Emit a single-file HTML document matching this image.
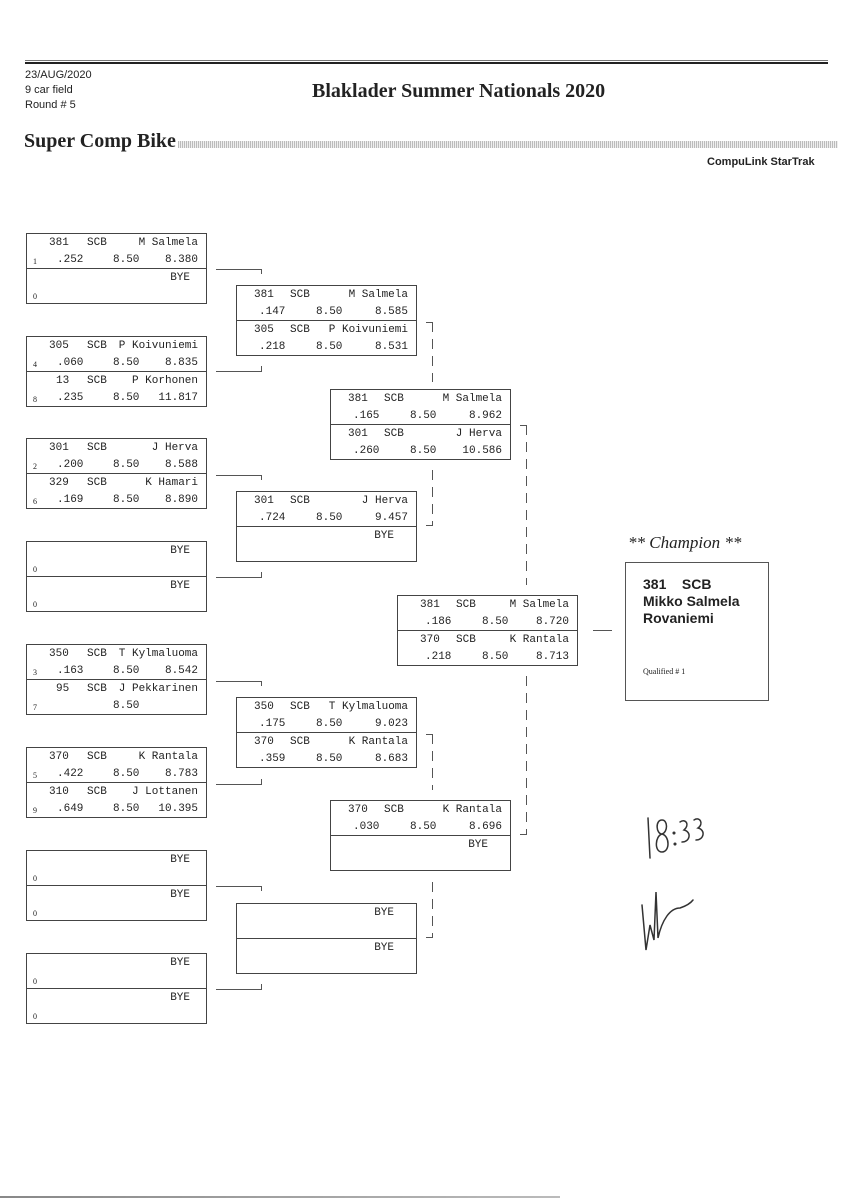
<!DOCTYPE html>
<html><head><meta charset="utf-8"><style>
body{margin:0;background:#fff;}
#p{position:relative;width:848px;height:1200px;overflow:hidden;background:#fff;color:#222;font-family:"Liberation Sans",sans-serif;}
.ab{position:absolute;}
.bx{position:absolute;width:179px;height:69px;border:1px solid #444;}
.h{position:absolute;left:0;width:179px;height:34px;}
.h2{top:34px;border-top:1px solid #444;}
.h1{top:0;}
.t{position:absolute;font-family:"Liberation Mono",monospace;font-size:11px;line-height:12px;white-space:pre;}
.u{top:3px}.l{top:20px}
.sd{position:absolute;left:6px;top:23px;font-family:"Liberation Serif",serif;font-size:8px;}
.ln{position:absolute;background:#555;}
.dv{position:absolute;width:1px;background:repeating-linear-gradient(#555 0 10px,transparent 10px 17px);}
</style></head><body><div id="p">
<div class="ln" style="left:25px;top:60px;width:803px;height:1px;background:#777"></div>
<div class="ln" style="left:25px;top:62px;width:803px;height:2px;background:#222"></div>
<div class="ab" style="left:25px;top:68px;font-size:11px;line-height:15px;font-family:'Liberation Sans Narrow','Liberation Sans',sans-serif">23/AUG/2020<br>9 car field<br>Round # 5</div>
<div class="ab" style="left:312px;top:80px;font-family:'Liberation Serif',serif;font-weight:bold;font-size:20px">Blaklader Summer Nationals 2020</div>
<div class="ab" style="left:24px;top:130px;font-family:'Liberation Serif',serif;font-weight:bold;font-size:20px">Super Comp Bike</div>
<div class="ab" style="left:178px;top:141px;width:660px;height:7px;background:repeating-linear-gradient(90deg,#bbb 0 1px,#eee 1px 2px)"></div>
<div class="ab" style="left:707px;top:156px;font-size:11px;font-family:'Liberation Sans Narrow','Liberation Sans',sans-serif;font-weight:bold">CompuLink StarTrak</div>

<!-- Round 1 -->
<div class="bx" style="left:26px;top:233px"><div class="h h1"><span class="t u" style="left:22px">381</span><span class="t u" style="left:60px">SCB</span><span class="t u" style="right:8px">M Salmela</span><span class="sd">1</span><span class="t l" style="left:30px">.252</span><span class="t l" style="left:86px">8.50</span><span class="t l" style="right:8px">8.380</span></div><div class="h h2"><span class="t u" style="right:16px">BYE</span><span class="sd">0</span></div></div>
<div class="bx" style="left:26px;top:336px"><div class="h h1"><span class="t u" style="left:22px">305</span><span class="t u" style="left:60px">SCB</span><span class="t u" style="right:8px">P Koivuniemi</span><span class="sd">4</span><span class="t l" style="left:30px">.060</span><span class="t l" style="left:86px">8.50</span><span class="t l" style="right:8px">8.835</span></div><div class="h h2"><span class="t u" style="left:29px">13</span><span class="t u" style="left:60px">SCB</span><span class="t u" style="right:8px">P Korhonen</span><span class="sd">8</span><span class="t l" style="left:30px">.235</span><span class="t l" style="left:86px">8.50</span><span class="t l" style="right:8px">11.817</span></div></div>
<div class="bx" style="left:26px;top:438px"><div class="h h1"><span class="t u" style="left:22px">301</span><span class="t u" style="left:60px">SCB</span><span class="t u" style="right:8px">J Herva</span><span class="sd">2</span><span class="t l" style="left:30px">.200</span><span class="t l" style="left:86px">8.50</span><span class="t l" style="right:8px">8.588</span></div><div class="h h2"><span class="t u" style="left:22px">329</span><span class="t u" style="left:60px">SCB</span><span class="t u" style="right:8px">K Hamari</span><span class="sd">6</span><span class="t l" style="left:30px">.169</span><span class="t l" style="left:86px">8.50</span><span class="t l" style="right:8px">8.890</span></div></div>
<div class="bx" style="left:26px;top:541px"><div class="h h1"><span class="t u" style="right:16px">BYE</span><span class="sd">0</span></div><div class="h h2"><span class="t u" style="right:16px">BYE</span><span class="sd">0</span></div></div>
<div class="bx" style="left:26px;top:644px"><div class="h h1"><span class="t u" style="left:22px">350</span><span class="t u" style="left:60px">SCB</span><span class="t u" style="right:8px">T Kylmaluoma</span><span class="sd">3</span><span class="t l" style="left:30px">.163</span><span class="t l" style="left:86px">8.50</span><span class="t l" style="right:8px">8.542</span></div><div class="h h2"><span class="t u" style="left:29px">95</span><span class="t u" style="left:60px">SCB</span><span class="t u" style="right:8px">J Pekkarinen</span><span class="sd">7</span><span class="t l" style="left:86px">8.50</span></div></div>
<div class="bx" style="left:26px;top:747px"><div class="h h1"><span class="t u" style="left:22px">370</span><span class="t u" style="left:60px">SCB</span><span class="t u" style="right:8px">K Rantala</span><span class="sd">5</span><span class="t l" style="left:30px">.422</span><span class="t l" style="left:86px">8.50</span><span class="t l" style="right:8px">8.783</span></div><div class="h h2"><span class="t u" style="left:22px">310</span><span class="t u" style="left:60px">SCB</span><span class="t u" style="right:8px">J Lottanen</span><span class="sd">9</span><span class="t l" style="left:30px">.649</span><span class="t l" style="left:86px">8.50</span><span class="t l" style="right:8px">10.395</span></div></div>
<div class="bx" style="left:26px;top:850px"><div class="h h1"><span class="t u" style="right:16px">BYE</span><span class="sd">0</span></div><div class="h h2"><span class="t u" style="right:16px">BYE</span><span class="sd">0</span></div></div>
<div class="bx" style="left:26px;top:953px"><div class="h h1"><span class="t u" style="right:16px">BYE</span><span class="sd">0</span></div><div class="h h2"><span class="t u" style="right:16px">BYE</span><span class="sd">0</span></div></div>

<!-- Round 2 -->
<div class="bx" style="left:236px;top:285px"><div class="h h1"><span class="t u" style="left:17px">381</span><span class="t u" style="left:53px">SCB</span><span class="t u" style="right:8px">M Salmela</span><span class="t l" style="left:22px">.147</span><span class="t l" style="left:79px">8.50</span><span class="t l" style="right:8px">8.585</span></div><div class="h h2"><span class="t u" style="left:17px">305</span><span class="t u" style="left:53px">SCB</span><span class="t u" style="right:8px">P Koivuniemi</span><span class="t l" style="left:22px">.218</span><span class="t l" style="left:79px">8.50</span><span class="t l" style="right:8px">8.531</span></div></div>
<div class="bx" style="left:236px;top:491px"><div class="h h1"><span class="t u" style="left:17px">301</span><span class="t u" style="left:53px">SCB</span><span class="t u" style="right:8px">J Herva</span><span class="t l" style="left:22px">.724</span><span class="t l" style="left:79px">8.50</span><span class="t l" style="right:8px">9.457</span></div><div class="h h2"><span class="t u" style="right:22px">BYE</span></div></div>
<div class="bx" style="left:236px;top:697px"><div class="h h1"><span class="t u" style="left:17px">350</span><span class="t u" style="left:53px">SCB</span><span class="t u" style="right:8px">T Kylmaluoma</span><span class="t l" style="left:22px">.175</span><span class="t l" style="left:79px">8.50</span><span class="t l" style="right:8px">9.023</span></div><div class="h h2"><span class="t u" style="left:17px">370</span><span class="t u" style="left:53px">SCB</span><span class="t u" style="right:8px">K Rantala</span><span class="t l" style="left:22px">.359</span><span class="t l" style="left:79px">8.50</span><span class="t l" style="right:8px">8.683</span></div></div>
<div class="bx" style="left:236px;top:903px"><div class="h h1"><span class="t u" style="right:22px">BYE</span></div><div class="h h2"><span class="t u" style="right:22px">BYE</span></div></div>

<!-- Round 3 -->
<div class="bx" style="left:330px;top:389px"><div class="h h1"><span class="t u" style="left:17px">381</span><span class="t u" style="left:53px">SCB</span><span class="t u" style="right:8px">M Salmela</span><span class="t l" style="left:22px">.165</span><span class="t l" style="left:79px">8.50</span><span class="t l" style="right:8px">8.962</span></div><div class="h h2"><span class="t u" style="left:17px">301</span><span class="t u" style="left:53px">SCB</span><span class="t u" style="right:8px">J Herva</span><span class="t l" style="left:22px">.260</span><span class="t l" style="left:79px">8.50</span><span class="t l" style="right:8px">10.586</span></div></div>
<div class="bx" style="left:330px;top:800px"><div class="h h1"><span class="t u" style="left:17px">370</span><span class="t u" style="left:53px">SCB</span><span class="t u" style="right:8px">K Rantala</span><span class="t l" style="left:22px">.030</span><span class="t l" style="left:79px">8.50</span><span class="t l" style="right:8px">8.696</span></div><div class="h h2"><span class="t u" style="right:22px">BYE</span></div></div>

<!-- Final -->
<div class="bx" style="left:397px;top:595px"><div class="h h1"><span class="t u" style="left:22px">381</span><span class="t u" style="left:58px">SCB</span><span class="t u" style="right:8px">M Salmela</span><span class="t l" style="left:27px">.186</span><span class="t l" style="left:84px">8.50</span><span class="t l" style="right:8px">8.720</span></div><div class="h h2"><span class="t u" style="left:22px">370</span><span class="t u" style="left:58px">SCB</span><span class="t u" style="right:8px">K Rantala</span><span class="t l" style="left:27px">.218</span><span class="t l" style="left:84px">8.50</span><span class="t l" style="right:8px">8.713</span></div></div>

<!-- Champion -->
<div class="ab" style="left:628px;top:533px;font-family:'Liberation Serif',serif;font-style:italic;font-size:17px">** Champion **</div>
<div class="ab" style="left:625px;top:562px;width:142px;height:137px;border:1px solid #555"></div>
<div class="ab" style="left:643px;top:576px;font-family:'Liberation Sans Narrow','Liberation Sans',sans-serif;font-weight:bold;font-size:14px;line-height:17px">381&nbsp;&nbsp;&nbsp;&nbsp;SCB<br>Mikko Salmela<br>Rovaniemi</div>
<div class="ab" style="left:643px;top:667px;font-family:'Liberation Serif',serif;font-size:8px">Qualified # 1</div>
<div class="ln" style="left:593px;top:630px;width:19px;height:1px"></div>

<!-- R1->R2 connectors -->
<div class="ln" style="left:216px;top:269px;width:46px;height:1px"></div><div class="ln" style="left:261px;top:269px;width:1px;height:5px"></div>
<div class="ln" style="left:216px;top:371px;width:46px;height:1px"></div><div class="ln" style="left:261px;top:366px;width:1px;height:5px"></div>
<div class="ln" style="left:216px;top:475px;width:46px;height:1px"></div><div class="ln" style="left:261px;top:475px;width:1px;height:5px"></div>
<div class="ln" style="left:216px;top:577px;width:46px;height:1px"></div><div class="ln" style="left:261px;top:572px;width:1px;height:5px"></div>
<div class="ln" style="left:216px;top:681px;width:46px;height:1px"></div><div class="ln" style="left:261px;top:681px;width:1px;height:5px"></div>
<div class="ln" style="left:216px;top:784px;width:46px;height:1px"></div><div class="ln" style="left:261px;top:779px;width:1px;height:5px"></div>
<div class="ln" style="left:216px;top:886px;width:46px;height:1px"></div><div class="ln" style="left:261px;top:886px;width:1px;height:5px"></div>
<div class="ln" style="left:216px;top:989px;width:46px;height:1px"></div><div class="ln" style="left:261px;top:984px;width:1px;height:5px"></div>

<!-- R2->R3 connectors -->
<div class="ln" style="left:426px;top:322px;width:7px;height:1px"></div><div class="dv" style="left:432px;top:322px;height:60px"></div>
<div class="dv" style="left:432px;top:470px;height:56px"></div><div class="ln" style="left:426px;top:525px;width:7px;height:1px"></div>
<div class="ln" style="left:426px;top:734px;width:7px;height:1px"></div><div class="dv" style="left:432px;top:734px;height:56px"></div>
<div class="dv" style="left:432px;top:882px;height:56px"></div><div class="ln" style="left:426px;top:937px;width:7px;height:1px"></div>

<!-- R3->Final connectors -->
<div class="ln" style="left:520px;top:425px;width:7px;height:1px"></div><div class="dv" style="left:526px;top:425px;height:160px"></div>
<div class="dv" style="left:526px;top:676px;height:158px"></div><div class="ln" style="left:520px;top:834px;width:7px;height:1px"></div>

<!-- handwriting -->
<svg class="ab" style="left:600px;top:800px" width="120" height="170" viewBox="0 0 120 170">
<g fill="none" stroke="#333" stroke-width="1.5" stroke-linecap="round">
<path d="M48 18 L50 58"/>
<path d="M62 20 C55 20 56 34 62 34 C70 36 70 52 62 52 C54 52 55 36 62 34 C68 32 68 20 62 20"/>
<circle cx="74" cy="33" r="0.8"/><circle cx="75" cy="44" r="0.8"/>
<path d="M80 22 C86 18 90 25 84 30 C92 32 90 42 82 42"/>
<path d="M94 20 C100 16 104 24 98 28 C106 30 104 40 96 40"/>
<path d="M42 105 L46 150 L50 125 L54 140 L56 92 L58 138 C62 120 70 108 80 108 C86 106 90 104 93 100"/>
</g></svg>
<div class="ab" style="left:0;top:1196px;width:560px;height:2px;background:linear-gradient(90deg,#888,#bbb)"></div>
</div></body></html>
